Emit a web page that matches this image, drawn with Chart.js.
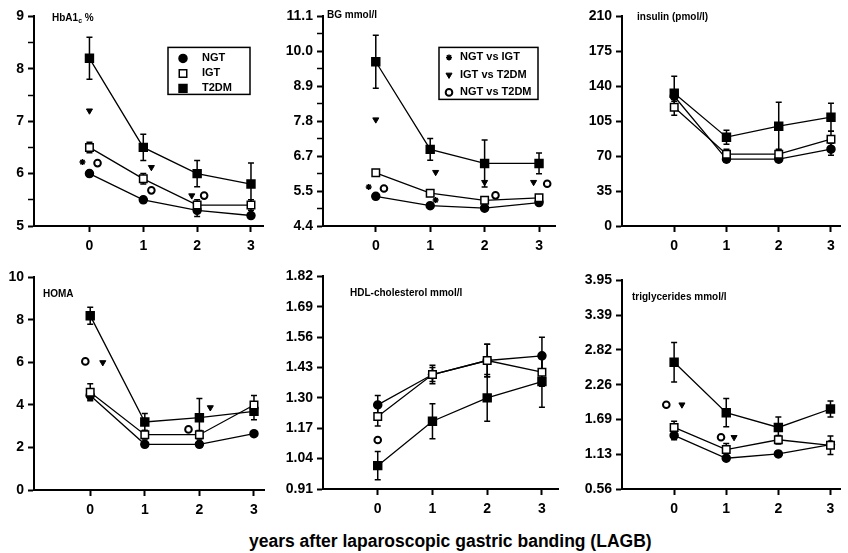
<!DOCTYPE html>
<html>
<head>
<meta charset="utf-8">
<script src="https://cdn.jsdelivr.net/npm/chart.js@4.4.1/dist/chart.umd.min.js"></script>
<style>
  body { margin: 0; background: #fff; width: 848px; height: 553px; position: relative; overflow: hidden;
         font-family: "Liberation Sans", Arial, sans-serif; color: #000; }
  canvas { position: absolute; }
  .lbl { position: absolute; font-weight: bold; font-size: 10px; white-space: nowrap; line-height: 12px; }
  .lbl sub { font-size: 7px; vertical-align: -2px; line-height: 0; }
  .xtitle { position: absolute; left: 249px; top: 531px; font-size: 17.5px; font-weight: bold; white-space: nowrap; }
</style>
</head>
<body>
<canvas id="hba"></canvas>
<canvas id="bg"></canvas>
<canvas id="ins"></canvas>
<canvas id="homa"></canvas>
<canvas id="hdl"></canvas>
<canvas id="tg"></canvas>

<div class="lbl" style="left:52px; top:12px;">HbA1<sub>c</sub> %</div>
<div class="lbl" style="left:327px; top:9px;">BG mmol/l</div>
<div class="lbl" style="left:637px; top:11px;">insulin (pmol/l)</div>
<div class="lbl" style="left:43px; top:288px;">HOMA</div>
<div class="lbl" style="left:350px; top:287px;">HDL-cholesterol mmol/l</div>
<div class="lbl" style="left:632px; top:291px;">triglycerides mmol/l</div>
<div class="xtitle">years after laparoscopic gastric banding (LAGB)</div>

<script>
// years after banding
const years = [0, 1, 2, 3];

// HbA1c %
const hbaTicks = ['5', '6', '7', '8', '9'];
const hbaNGT = [6.0, 5.5, 5.3, 5.2];
const hbaIGT = [6.5, 5.9, 5.4, 5.4];
const hbaT2DM = [8.2, 6.5, 6.0, 5.8];
const hbaErrNGT = [0.05, 0.05, 0.12, 0.05];
const hbaErrIGT = [0.1, 0.1, 0.1, 0.1];
const hbaErrT2DM = [0.4, 0.25, 0.25, 0.4];
const hbaStar = [[-0.13, 6.22]];
const hbaTri = [[0.0, 7.2], [1.15, 6.12], [1.9, 5.58]];
const hbaCirc = [[0.15, 6.2], [1.15, 5.68], [2.13, 5.58]];

// blood glucose mmol/l
const bgTicks = ['4.4', '5.5', '6.7', '7.8', '8.9', '10.0', '11.1'];
const bgNGT = [5.35, 5.05, 4.97, 5.15];
const bgIGT = [6.1, 5.45, 5.22, 5.3];
const bgT2DM = [9.65, 6.85, 6.4, 6.4];
const bgErrNGT = [0.05, 0.05, 0.05, 0.05];
const bgErrIGT = [0.1, 0.08, 0.08, 0.1];
const bgErrT2DM = [0.85, 0.35, 0.75, 0.33];
const bgStar = [[-0.13, 5.65], [1.1, 5.23]];
const bgTri = [[0.0, 7.8], [1.1, 6.12], [2.0, 5.8], [2.9, 5.8]];
const bgCirc = [[0.15, 5.6], [2.2, 5.38], [3.15, 5.75]];

// insulin pmol/l
const insTicks = ['0', '35', '70', '105', '140', '175', '210'];
const insNGT = [130, 67, 67, 77];
const insIGT = [119, 72, 72, 87];
const insT2DM = [133, 89, 100, 109];
const insErrNGT = [5, 3, 3, 6];
const insErrIGT = [8, 5, 5, 8];
const insErrT2DM = [17, 7, 24, 14];

// HOMA
const homaTicks = ['0', '2', '4', '6', '8', '10'];
const homaNGT = [4.45, 2.15, 2.15, 2.65];
const homaIGT = [4.6, 2.6, 2.6, 4.0];
const homaT2DM = [8.2, 3.2, 3.4, 3.7];
const homaErrNGT = [0.2, 0.1, 0.1, 0.1];
const homaErrIGT = [0.4, 0.2, 0.2, 0.45];
const homaErrT2DM = [0.4, 0.4, 0.9, 0.4];
const homaTri = [[0.23, 6.0], [2.2, 3.88]];
const homaCirc = [[-0.09, 6.05], [1.8, 2.85]];

// HDL-cholesterol mmol/l
const hdlTicks = ['0.91', '1.04', '1.17', '1.30', '1.43', '1.56', '1.69', '1.82'];
const hdlNGT = [1.27, 1.40, 1.46, 1.48];
const hdlIGT = [1.22, 1.40, 1.46, 1.41];
const hdlT2DM = [1.01, 1.20, 1.30, 1.37];
const hdlErrNGT = [0.04, 0.04, 0.07, 0.08];
const hdlErrIGT = [0.04, 0.03, 0.07, 0.06];
const hdlErrT2DM = [0.06, 0.075, 0.10, 0.11];
const hdlCirc = [[0.0, 1.12]];

// triglycerides mmol/l
const tgTicks = ['0.56', '1.13', '1.69', '2.26', '2.82', '3.39', '3.95'];
const tgNGT = [1.43, 1.06, 1.13, 1.28];
const tgIGT = [1.56, 1.20, 1.36, 1.27];
const tgT2DM = [2.62, 1.80, 1.56, 1.86];
const tgErrNGT = [0.07, 0.03, 0.04, 0.04];
const tgErrIGT = [0.1, 0.1, 0.07, 0.15];
const tgErrT2DM = [0.32, 0.23, 0.17, 0.13];
const tgTri = [[0.15, 1.93], [1.15, 1.4]];
const tgCirc = [[-0.15, 1.93], [0.9, 1.4]];

Chart.defaults.font.family = '"Liberation Sans", Arial, sans-serif';
Chart.defaults.color = '#000';

// vertical error bars drawn through the chart's own scales
const errorBars = {
  id: 'errorBars',
  beforeDatasetsDraw(chart) {
    const { ctx, scales: { x, y } } = chart;
    ctx.save();
    ctx.strokeStyle = '#000';
    ctx.lineWidth = 1.5;
    chart.data.datasets.forEach(ds => {
      if (!ds.err) return;
      ds.data.forEach((p, i) => {
        const e = ds.err[i];
        if (!e) return;
        const px = x.getPixelForValue(p.x);
        const top = y.getPixelForValue(p.y + e);
        const bot = y.getPixelForValue(p.y - e);
        ctx.beginPath();
        ctx.moveTo(px, top); ctx.lineTo(px, bot);
        ctx.moveTo(px - 3, top); ctx.lineTo(px + 3, top);
        ctx.moveTo(px - 3, bot); ctx.lineTo(px + 3, bot);
        ctx.stroke();
      });
    });
    ctx.restore();
  }
};

// boxed legend inside the plot area
const boxLegend = {
  id: 'boxLegend',
  afterDatasetsDraw(chart, args, o) {
    if (!o.items) return;
    const { ctx, chartArea } = chart;
    const bx = chartArea.left + o.x, by = chartArea.top + o.y;
    ctx.save();
    ctx.fillStyle = '#fff';
    ctx.fillRect(bx, by, o.w, o.h);
    ctx.strokeStyle = '#000';
    ctx.lineWidth = 1.5;
    ctx.strokeRect(bx, by, o.w, o.h);
    ctx.font = 'bold 11px "Liberation Sans", Arial, sans-serif';
    ctx.textBaseline = 'middle';
    o.items.forEach((di, k) => {
      const ds = chart.data.datasets[di];
      const cy = by + o.first + k * o.step;
      ctx.fillStyle = ds.pointBackgroundColor;
      ctx.strokeStyle = '#000';
      ctx.lineWidth = ds.pointBorderWidth;
      Chart.helpers.drawPoint(ctx, {
        pointStyle: ds.pointStyle, radius: ds.pointRadius,
        rotation: ds.pointRotation || 0, borderWidth: ds.pointBorderWidth
      }, bx + o.mx, cy);
      ctx.fillStyle = '#000';
      ctx.fillText(ds.label, bx + o.tx, cy);
    });
    ctx.restore();
  }
};

function series(label, vals, err, style, radius, fill) {
  return {
    label, err,
    data: years.map((x, i) => ({ x, y: vals[i] })),
    borderColor: '#000', borderWidth: 1.3, tension: 0,
    pointStyle: style, pointRadius: radius, pointBackgroundColor: fill,
    pointBorderColor: '#000', pointBorderWidth: 1.5
  };
}

function marks(label, pts, style, radius, fill, rot, bw) {
  return {
    label, showLine: false,
    data: (pts || []).map(p => ({ x: p[0], y: p[1] })),
    pointStyle: style, pointRadius: radius, pointRotation: rot || 0,
    pointBackgroundColor: fill, pointBorderColor: '#000', pointBorderWidth: bw
  };
}

function makePanel(id, g, d) {
  const Wy = 40, padTop = 10, Hx = 30;
  const canvas = document.getElementById(id);
  const left = g.plotLeft - Wy, top = g.plotTop - padTop;
  canvas.width = g.plotRight + g.padRight - left;
  canvas.height = padTop + (g.plotBottom - g.plotTop) + Hx;
  canvas.style.left = left + 'px';
  canvas.style.top = top + 'px';

  const yMin = parseFloat(d.ticks[0]), yMax = parseFloat(d.ticks[d.ticks.length - 1]);
  const steps = (d.ticks.length - 1) * (d.minor + 1);
  const pos = [], labs = [];
  for (let i = 0; i <= steps; i++) {
    pos.push(yMin + i * (yMax - yMin) / steps);
    labs.push(i % (d.minor + 1) === 0 ? d.ticks[i / (d.minor + 1)] : '');
  }

  const datasets = [
    series('IGT', d.igt, d.errIGT, 'rect', 5.3, '#fff'),
    series('NGT', d.ngt, d.errNGT, 'circle', 4, '#000'),
    series('T2DM', d.t2dm, d.errT2DM, 'rect', 5.6, '#000'),
    marks('NGT vs IGT', d.star, 'star', 3, '#000', 0, 1.5),
    marks('IGT vs T2DM', d.tri, 'triangle', 3.5, '#000', 180, 1),
    marks('NGT vs T2DM', d.circ, 'circle', 3.3, '#fff', 0, 2)
  ];

  return new Chart(canvas, {
    type: 'line',
    data: { datasets },
    plugins: [errorBars, boxLegend],
    options: {
      responsive: false,
      animation: false,
      devicePixelRatio: 1,
      events: [],
      layout: { padding: { top: padTop, right: g.padRight, left: 0, bottom: 0 } },
      plugins: {
        legend: { display: false },
        tooltip: { enabled: false },
        boxLegend: d.legend || {}
      },
      scales: {
        x: {
          type: 'linear', min: g.xMin, max: g.xMax,
          afterBuildTicks: s => { s.ticks = years.map(v => ({ value: v })); },
          afterFit: s => { s.height = Hx; },
          ticks: { autoSkip: false, maxRotation: 0, padding: 6, color: '#000',
                   font: { size: 14, weight: 'bold' }, callback: v => String(v) },
          grid: { drawOnChartArea: false, tickLength: 6, tickColor: '#000', tickWidth: 2 },
          border: { color: '#000', width: 2 }
        },
        y: {
          type: 'linear', min: yMin, max: yMax,
          afterBuildTicks: s => { s.ticks = pos.map(v => ({ value: v })); },
          afterFit: s => { s.width = Wy; },
          ticks: { autoSkip: false, padding: 4, color: '#000',
                   font: { size: 14, weight: 'bold' }, callback: (v, i) => labs[i] },
          grid: { drawOnChartArea: false, tickLength: 6, tickColor: '#000',
                  tickWidth: c => (c.index % (d.minor + 1) === 0 ? 2 : 1.5) },
          border: { color: '#000', width: 2 }
        }
      }
    }
  });
}

makePanel('hba',
  { plotLeft: 34, plotRight: 265, plotTop: 14, plotBottom: 226, xMin: -1.03, xMax: 3.24, padRight: 6 },
  { ticks: hbaTicks, minor: 1, ngt: hbaNGT, igt: hbaIGT, t2dm: hbaT2DM,
    errNGT: hbaErrNGT, errIGT: hbaErrIGT, errT2DM: hbaErrT2DM,
    star: hbaStar, tri: hbaTri, circ: hbaCirc,
    legend: { items: [1, 0, 2], x: 134, y: 31, w: 82, h: 47, first: 11, step: 15, mx: 15, tx: 34 } });

makePanel('bg',
  { plotLeft: 323, plotRight: 557, plotTop: 14, plotBottom: 226, xMin: -0.97, xMax: 3.31, padRight: 6 },
  { ticks: bgTicks, minor: 1, ngt: bgNGT, igt: bgIGT, t2dm: bgT2DM,
    errNGT: bgErrNGT, errIGT: bgErrIGT, errT2DM: bgErrT2DM,
    star: bgStar, tri: bgTri, circ: bgCirc,
    legend: { items: [3, 4, 5], x: 116, y: 31, w: 99, h: 52, first: 10, step: 17.5, mx: 10, tx: 21 } });

makePanel('ins',
  { plotLeft: 622, plotRight: 848, plotTop: 14, plotBottom: 226, xMin: -1.0, xMax: 3.19, padRight: 0 },
  { ticks: insTicks, minor: 0, ngt: insNGT, igt: insIGT, t2dm: insT2DM,
    errNGT: insErrNGT, errIGT: insErrIGT, errT2DM: insErrT2DM });

makePanel('homa',
  { plotLeft: 34, plotRight: 266, plotTop: 275, plotBottom: 490, xMin: -1.03, xMax: 3.2, padRight: 6 },
  { ticks: homaTicks, minor: 0, ngt: homaNGT, igt: homaIGT, t2dm: homaT2DM,
    errNGT: homaErrNGT, errIGT: homaErrIGT, errT2DM: homaErrT2DM,
    tri: homaTri, circ: homaCirc });

makePanel('hdl',
  { plotLeft: 323, plotRight: 560, plotTop: 274, plotBottom: 489, xMin: -1.0, xMax: 3.31, padRight: 6 },
  { ticks: hdlTicks, minor: 0, ngt: hdlNGT, igt: hdlIGT, t2dm: hdlT2DM,
    errNGT: hdlErrNGT, errIGT: hdlErrIGT, errT2DM: hdlErrT2DM,
    circ: hdlCirc });

makePanel('tg',
  { plotLeft: 622, plotRight: 848, plotTop: 278, plotBottom: 489, xMin: -1.0, xMax: 3.2, padRight: 0 },
  { ticks: tgTicks, minor: 0, ngt: tgNGT, igt: tgIGT, t2dm: tgT2DM,
    errNGT: tgErrNGT, errIGT: tgErrIGT, errT2DM: tgErrT2DM,
    tri: tgTri, circ: tgCirc });
</script>
</body>
</html>
